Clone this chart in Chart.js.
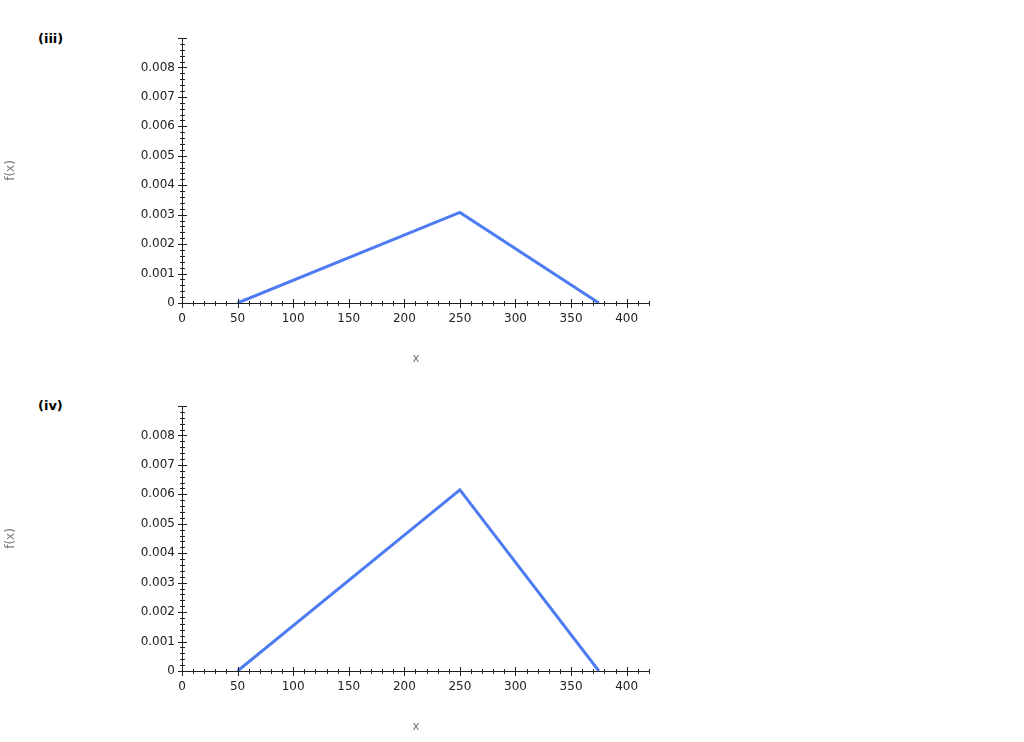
<!DOCTYPE html>
<html><head><meta charset="utf-8">
<script src="https://cdn.jsdelivr.net/npm/chart.js@4"></script>
<style>
body{margin:0;background:#fff;width:1024px;height:742px;position:relative;font-family:"DejaVu Sans",sans-serif;}
.lab{position:absolute;left:38px;font-weight:bold;font-size:13px;color:#000;}
.box{position:absolute;left:0;width:700px;height:370px;}
</style></head><body>
<div class="lab" style="top:31px">(iii)</div>
<div class="lab" style="top:398px">(iv)</div>
<div class="box" style="top:0"><canvas id="c1"></canvas></div>
<div class="box" style="top:368px"><canvas id="c2"></canvas></div>
<script>
const xValues = [50, 250, 375];
const yIII = [0, 0.003077, 0];
const yIV = [0, 0.006154, 0];
const xTicks = [0, 50, 100, 150, 200, 250, 300, 350, 400];
const yTicks = [0, 0.001, 0.002, 0.003, 0.004, 0.005, 0.006, 0.007, 0.008];

const tickPlugin = {
  id: 'crossTicks',
  afterDraw(chart) {
    const ctx = chart.ctx, xs = chart.scales.x, ys = chart.scales.y;
    const x0 = xs.getPixelForValue(0), y0 = ys.getPixelForValue(0);
    ctx.save(); ctx.strokeStyle = '#222'; ctx.lineWidth = 1;
    ctx.beginPath();
    ctx.moveTo(x0 + 0.5, ys.top); ctx.lineTo(x0 + 0.5, y0);
    ctx.moveTo(x0, y0 + 0.5); ctx.lineTo(xs.right, y0 + 0.5);
    for (let v = 0; v <= xs.max + 1e-9; v += 10) {
      const p = Math.round(xs.getPixelForValue(v)) + 0.5, L = (v % 50 === 0) ? 4 : 2;
      ctx.moveTo(p, y0 - L); ctx.lineTo(p, y0 + L + 1);
    }
    for (let i = 0; i <= 45; i++) {
      const v = i * 0.0002; if (v > ys.max + 1e-12) break;
      const p = Math.round(ys.getPixelForValue(v)) + 0.5, L = (i % 5 === 0) ? 4 : 2;
      ctx.moveTo(x0 - L, p); ctx.lineTo(x0 + L + 1, p);
    }
    ctx.stroke(); ctx.restore();
  }
};

function make(id, ys) {
  new Chart(document.getElementById(id), {
    type: 'scatter',
    data: { datasets: [{ data: xValues.map((x, i) => ({x, y: ys[i]})), showLine: true,
      borderColor: '#4d7cf2', borderWidth: 3, pointRadius: 0, tension: 0 }] },
    options: {
      responsive: false, animation: false, devicePixelRatio: 1,
      layout: { padding: { top: 38, right: 50, left: 0, bottom: 0 } },
      plugins: { legend: { display: false }, tooltip: { enabled: false } },
      scales: {
        x: { type: 'linear', min: 0, max: 421,
          afterBuildTicks: s => { s.ticks = xTicks.map(v => ({value: v})); },
          afterFit: s => { s.height = 67; },
          grid: { display: false, drawTicks: false }, border: { display: false },
          ticks: { color: '#222', font: { family: 'DejaVu Sans', size: 12 }, padding: 9 },
          title: { display: true, text: 'x', color: '#777', font: { family: 'DejaVu Sans', size: 12 }, padding: { top: 10 } } },
        y: { type: 'linear', min: 0, max: 0.009,
          afterBuildTicks: s => { s.ticks = yTicks.map(v => ({value: v})); },
          afterFit: s => { s.width = 182; },
          grid: { display: false, drawTicks: false }, border: { display: false },
          ticks: { color: '#222', font: { family: 'DejaVu Sans', size: 12 }, padding: 7,
            callback: v => v === 0 ? '0' : v.toFixed(3) },
          title: { display: true, text: 'f(x)', color: '#777', font: { family: 'DejaVu Sans', size: 12 }, padding: { bottom: 12 } } }
      }
    },
    plugins: [tickPlugin]
  });
}
document.getElementById('c1').width = 700; document.getElementById('c1').height = 370;
document.getElementById('c2').width = 700; document.getElementById('c2').height = 370;
make('c1', yIII); make('c2', yIV);
</script></body></html>
